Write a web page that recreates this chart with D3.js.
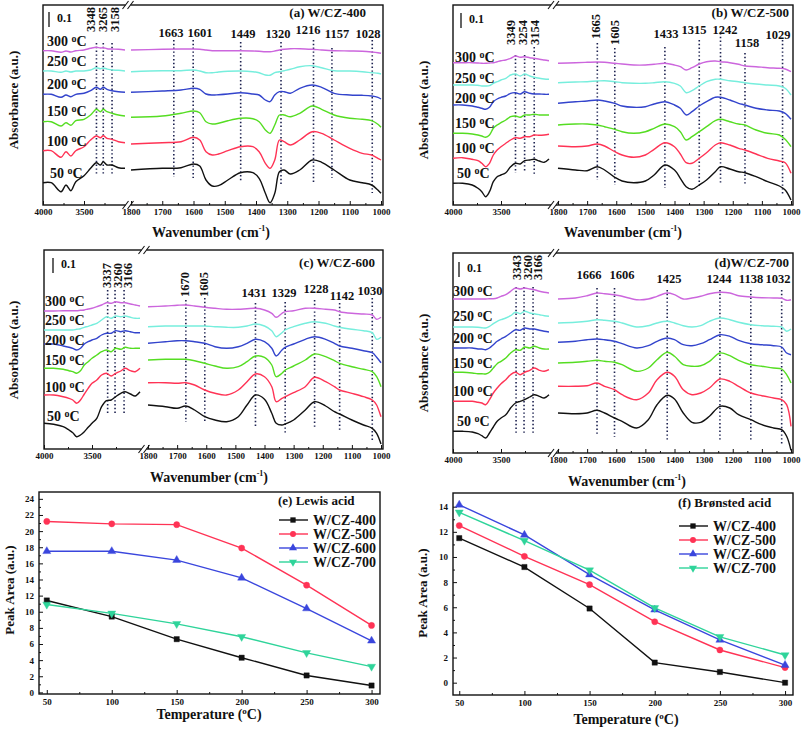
<!DOCTYPE html>
<html><head><meta charset="utf-8">
<script src="https://cdn.jsdelivr.net/npm/d3@7"></script>
<style>
body{margin:0;background:#fff}
svg{display:block}
text{font-family:"Liberation Serif","Times New Roman",serif;font-weight:bold;fill:#111}
</style></head><body>
<svg id="c" width="803" height="729"></svg>
<script>
// ---------------- DATA ----------------
const temperatures = [50, 100, 150, 200, 250, 300];
const spectrumColors = ["#111111", "#ff3355", "#55dd22", "#3344cc", "#77eedd", "#cc66dd"];

// Panel (a) W/CZ-400  (absorbance, arbitrary units, stacked)
const aHighWn = [4000,3900,3780,3720,3660,3600,3500,3420,3350,3300,3265,3220,3158,3080,3000];
const aHigh = [
 [22.3,22.3,13.3,20,14.3,23.3,29.3,36.7,42.3,40,43.3,40,40,37.3,36.7],
 [54.3,54.3,47.7,53.3,49,54.3,58.3,65,69,67.3,69.3,66.7,65.7,63.3,62.3],
 [83.3,83.3,79,82.3,79.7,84.3,85.7,90,95.7,93.3,95.7,93.3,91.7,90,89],
 [110.7,110.7,107.7,110,108.3,110.7,111.7,114.3,117.7,115.7,117.7,115.7,114.3,113.3,112.7],
 [134,134,132.7,134,133,134,134,135,137.3,136.3,137,136,135,134.7,134],
 [154.3,154.3,152.7,154,153,154.3,155,156.7,157.7,157,157.3,156.3,156,155.7,155]
];
const aLowWn = [1800,1700,1640,1600,1580,1560,1540,1520,1490,1450,1410,1390,1370,1355,1340,1325,1310,1290,1260,1220,1190,1150,1100,1060,1030,1010,1000];
const aLow = [
 [35,36.7,37.3,41,39,25,19,19.3,25,32.3,32.3,26.7,11.7,2.3,11.7,33.3,35,31,35,45,42.7,35,25,22.3,20,15,11.7],
 [61,62.3,63.3,67.7,65,53.3,50,51,54.3,58.3,58.3,53.3,41.7,36.7,45,65,63.3,60,65,73.3,71.7,65,56.7,51.7,50,46.7,45],
 [87.7,89,91.7,94,92.3,83.3,81,81.7,84.3,86.7,86.3,83.3,75,71.7,80,90,90,88.3,91.7,99,95.7,90,86.7,85.7,84.3,80.7,77.7],
 [112.7,114,115,116.7,115.7,111,110,110.3,111,112.3,111,110,105,103.3,110,113.3,113.3,111.7,116.7,120,117.7,111.7,110,109.7,109,107.7,106],
 [133.3,134.3,134.3,135,134,132.3,132.3,133,133.7,134,133.3,132.3,130,129.7,132.3,133.3,134.3,135.7,138.3,139.3,137.3,134.3,134,133.3,132.3,131.7,131],
 [155,155.7,156,156,155.7,155,154.3,154.3,154.3,154.3,154,153.7,153.3,153.3,154,155,155.7,156.3,156.3,155.7,155,154.3,154,153.7,153,152.3,151.7]
];
const aPeaksHigh = [3348, 3265, 3158];
const aPeaksLow = [1663, 1601, 1449, 1320, 1216, 1157, 1028];

// Panel (b) W/CZ-500
const bHighWn = [4000,3900,3800,3740,3700,3660,3620,3580,3540,3500,3450,3400,3349,3300,3254,3200,3154,3100,3050,3000];
const bHigh = [
 [21.7,21.7,20,16.7,13.3,8.3,13.3,23.3,28.3,30,32.3,38.3,41.7,41,44.3,45,45.7,44,42.7,46],
 [46.7,47.3,45.7,44.3,41.7,38.3,41.7,50,55,58.3,61.7,65,67.3,66.7,68.3,68.3,70,69.7,70,70.7],
 [71.7,71.7,71,70,69,67.7,70,76.7,80,82.3,85,88.3,89,87.7,90,90,90.7,90,90,90],
 [100,100,99,97.7,96.7,95.7,97.7,103.3,106,107.7,109,111.7,112.3,111,113.3,111.7,111,111,110.7,110.7],
 [120,120,120,119.7,119,119,119.3,121.7,123.3,125,126.7,130,131,129,131,129,127.7,126.7,126,125.7],
 [142.3,142.3,142.3,142,141.7,141.7,142,142.3,143.3,144.3,145,146.7,149,147.7,148.3,147.3,146.7,145.7,145,144.3]
];
const bLowWn = [1800,1740,1700,1665,1640,1605,1580,1540,1500,1470,1433,1400,1380,1360,1340,1315,1290,1260,1242,1210,1180,1158,1120,1080,1040,1020,1000];
const bLow = [
 [36.7,35,34.3,38.3,35,27.7,24,22.3,24,30,40,35,26.7,18.3,15.7,20,25,33.3,38.3,36,33.3,32.3,28.3,23.3,19,15,5],
 [59,58.3,59,61,59,53.3,50,47.7,50,55.7,62.3,58.3,51,42.3,41.7,46.7,52.3,60,62.3,60,56.7,55,51,46.7,44,42.3,31.7],
 [80,81,81,80,78.3,75.7,73.3,71.7,73.3,76.7,81,78.3,73.3,65,68.3,73.3,78.3,84.3,85.7,83.3,81,80,75,71.7,70,65.7,58.3],
 [101.7,103.3,104,105,104,101.7,99,97.7,98.3,101,103.3,100,96.7,90,93.3,99,103.3,107.7,107.7,105,101.7,100,96.7,95,94,91.7,85.7],
 [122.3,123,123.3,124,124.3,123.3,122.3,121.7,121.7,122.3,123.3,121.7,119,112.3,114.3,119,123.3,125.7,125.7,124.3,123.3,122.3,121,120,119,116.7,110],
 [141.7,142.3,142.7,143,142.7,141.7,141,140,140,140.7,141.7,140,138.3,135,137.3,141,143.3,144,143.3,142.3,140.7,139,138.3,137.3,136.7,136,133.3]
];
const bPeaksHigh = [3349, 3254, 3154];
const bPeaksLow = [1665, 1605, 1433, 1315, 1242, 1158, 1029];

// Panel (c) W/CZ-600
const cHighWn = [4000,3900,3800,3740,3700,3660,3620,3580,3540,3500,3450,3400,3349,3300,3254,3200,3154,3100,3050,3000];
const cHigh = [
 [25.7,24.7,22.3,19,16.3,12.3,14,17.3,21.7,25.7,30.7,42.3,48.3,49,52.3,55.7,57.3,55,53,57.3],
 [54,54,52.3,50.7,49,45.7,49,55,60.7,65.7,69,74,75.7,73,75.7,78,80.7,78.3,77.3,80.7],
 [80.7,80.7,79.7,78.3,77.3,75.7,78.3,84,87.3,90.7,94,97.3,99,97.3,100.7,99.7,101.7,100.7,100.7,100.7],
 [105,105,103,101.7,100.7,99,100.7,105,107.3,109,110.7,114,115.7,115.7,118.3,117.3,118.3,117.3,116.3,116.3],
 [119,119,119,119,119,119.7,120.3,121.7,122.7,124,125.7,129,132.3,130.7,133,132.3,133,131.7,130.7,130.7],
 [138,138,138.3,138.3,138.3,138.3,138.7,139,140,140.7,142.3,144,146.3,145.7,147.3,146.3,146.3,145,144,143]
];
const cLowWn = [1800,1740,1700,1670,1640,1605,1570,1530,1490,1460,1431,1400,1375,1360,1340,1329,1300,1260,1228,1190,1160,1142,1100,1060,1030,1015,1000];
const cLow = [
 [44,42.3,40.7,43,39,32.3,29,27.3,32.3,44,54,49.7,35.7,25.7,24,25,29,39,47.3,43,37.3,35,29,24,20.7,15.7,5],
 [66.3,66.3,65.7,66.3,64,59,55.7,54,59,67.3,75,72.3,62.3,47.3,50.7,52.3,56.3,62.3,71.7,67.3,62.3,59,55.7,52.3,49,44,32.3],
 [89,89.7,89.7,89.7,88.3,85.7,83,80.7,82.3,87.3,93,91.7,84,72.3,75.7,79,83,89,95,92.3,88.3,85.7,82.3,79.7,77.3,72.3,62.3],
 [105.7,107.3,108.3,108.3,107.3,105.7,102.3,100.7,102.3,105.7,109.7,107.3,100.7,93,99,101.7,105,109.7,112.3,109.7,105.7,103,100.7,98.3,96.3,91.7,86.3],
 [122.3,123,123,123,123,123,122.3,121.7,121.7,123,125,123,118.3,112.3,116.3,119,122.3,125.7,127.3,125.7,123,121.7,119.7,118.3,116.3,109.7,111.7],
 [142.3,143,143.7,144,143,141.7,140.7,139.7,139.7,140.3,140.7,139,135.7,131.7,135.7,137.3,138.3,140.7,140.7,139.7,139,137.3,135.7,135,134,129.7,131.7]
];
const cPeaksHigh = [3337, 3260, 3166];
const cPeaksLow = [1670, 1605, 1431, 1329, 1228, 1142, 1030];

// Panel (d) W/CZ-700
const dHighWn = [4000,3900,3800,3740,3700,3660,3620,3580,3540,3500,3450,3400,3349,3300,3254,3200,3154,3100,3050,3000];
const dHigh = [
 [21.7,21.7,21,19.3,17.3,15,20,26,31.7,35,38.3,45,50,51.7,53.3,56,58.3,56.7,55,58.3],
 [51.7,51.7,51.7,50.7,50,48.3,53.3,60,65,69.3,73.3,78.3,80.7,78.3,80.7,82.7,85,82.7,81.7,83.3],
 [80.7,80.7,80,79.3,79.3,79,80.7,85,89.3,91.7,95,100,103.3,102.7,106,105,106.7,105,104,104],
 [105,105,105,104,104,103.3,105,108.3,111.7,114,116.7,120,123.3,122.7,125,124,124,122.7,121.7,121],
 [126,126,126,125.7,125.3,125,126.7,129.3,131.7,133.3,135,137.3,140.7,139.3,141.7,140,139.3,138.3,137.3,136.7],
 [154,154,154,154,154,154,154.3,154.3,155,156.7,158.3,161.7,165,164,165,164,163.3,161.7,160.7,160]
];
const dLowWn = [1800,1740,1700,1666,1640,1606,1580,1530,1490,1460,1425,1400,1370,1340,1310,1280,1244,1210,1180,1138,1100,1060,1032,1015,1000];
const dLow = [
 [40,39.3,40,42.7,40,35,31.7,25,33.3,48.3,57.7,54,40,30.7,30.7,36.7,46.7,45,38.3,33.3,28.3,25,23.3,16.7,2.7],
 [66.7,66.7,67.3,70,66.7,63.3,58.3,53.3,60,73.3,80.7,76.7,63.3,58.3,60,65,74,71.7,66.7,60,57.3,55,53.3,48.3,26.7],
 [90,90.7,91.7,92.7,91.7,90.7,88.3,81.7,85,93.3,100.7,96.7,88.3,86.7,87.3,91.7,100,97.3,92.7,88.3,86.7,85,84,78.3,70],
 [110.7,111.7,113.3,114,113.3,111.7,109.3,105,107.3,111.7,115,113.3,108.3,107.3,109.3,113.3,118.3,116.7,112.7,109.3,108.3,107.3,106,100,98.3],
 [130,130.7,131.7,133.3,132.7,131.7,130,126,127.3,130,131.7,130,127.3,126,127.3,131.7,135,133.3,130.7,128.3,127.3,126.7,126,121.7,124],
 [154,155,157.3,160,159.3,158.3,156.7,153.3,154,156.7,160,158.3,154,155,156.7,159.3,160.7,160,157.3,156,155.3,155,154.7,152.7,153.3]
];
const dPeaksHigh = [3343, 3260, 3166];
const dPeaksLow = [1666, 1606, 1425, 1244, 1138, 1032];

// Panels (e), (f): peak areas vs temperature
const sampleNames = ["W/CZ-400", "W/CZ-500", "W/CZ-600", "W/CZ-700"];
const sampleColors = ["#111111", "#ff3355", "#3a46dd", "#2fd49a"];
const lewisArea = [
 [11.4, 9.4, 6.6, 4.3, 2.1, 0.85],
 [21.2, 20.9, 20.8, 17.9, 13.3, 8.3],
 [17.5, 17.5, 16.4, 14.2, 10.4, 6.4],
 [10.9, 9.8, 8.5, 6.9, 4.9, 3.2]
];
const bronstedArea = [
 [11.5, 9.2, 5.9, 1.6, 0.85, 0.0],
 [12.5, 10.05, 7.8, 4.85, 2.6, 1.2],
 [14.15, 11.75, 8.6, 5.8, 3.4, 1.4],
 [13.55, 11.3, 8.95, 5.95, 3.65, 2.2]
];
const lewisTicks = d3.range(0, 25, 2);
const bronstedTicks = d3.range(0, 15, 2);
const tempTicks = [50, 100, 150, 200, 250, 300];

// ---------------- DRAWING ----------------
const svg = d3.select("#c");
const INK = "#111";

function txt(g, x, y, s, size, anchor) {
  return g.append("text").attr("x", x).attr("y", y).attr("font-size", size)
    .attr("text-anchor", anchor || "start").text(s);
}

function styleAxis(sel, fs) {
  sel.select(".domain").remove();
  sel.selectAll(".tick line").attr("stroke", INK).attr("stroke-width", 1);
  sel.selectAll(".tick text").attr("font-size", fs).attr("font-family", '"Liberation Serif","Times New Roman",serif')
     .attr("font-weight", "bold").attr("fill", INK);
}

function drawSpectra(p) {
  const g = svg.append("g");
  const xL = d3.scaleLinear().domain([4000, 3000]).range(p.xl);
  const xR = d3.scaleLinear().domain([1800, 1000]).range(p.xr);
  const y = d3.scaleLinear().domain([0, 200]).range([p.bottom, p.bottom - 200]);
  const gap = (xL(3000) + xR(1800)) / 2;

  // frame
  g.append("rect").attr("x", p.left).attr("y", p.top).attr("width", p.right - p.left)
   .attr("height", p.bottom - p.top).attr("fill", "none").attr("stroke", INK).attr("stroke-width", 1.4);
  [p.top, p.bottom].forEach(yy => {
    g.append("rect").attr("x", gap - 2.5).attr("y", yy - 2).attr("width", 5).attr("height", 4).attr("fill", "#fff");
    [-2.5, 2.5].forEach(dx => g.append("line").attr("x1", gap + dx - 3).attr("y1", yy + 4)
      .attr("x2", gap + dx + 3).attr("y2", yy - 4).attr("stroke", INK).attr("stroke-width", 1.1));
  });

  // axes
  const axY = p.bottom;
  const aL = g.append("g").attr("transform", `translate(0,${axY})`)
    .call(d3.axisBottom(xL).tickValues([4000, 3500]).tickSize(-4).tickPadding(4).tickFormat(d3.format("d")));
  styleAxis(aL, 9);
  const aLm = g.append("g").attr("transform", `translate(0,${axY})`)
    .call(d3.axisBottom(xL).tickValues([3750, 3250]).tickSize(-2).tickFormat(""));
  styleAxis(aLm, 9);
  const aR = g.append("g").attr("transform", `translate(0,${axY})`)
    .call(d3.axisBottom(xR).tickValues(d3.range(1800, 999, -100)).tickSize(-4).tickPadding(4).tickFormat(d3.format("d")));
  styleAxis(aR, 9);
  const aRm = g.append("g").attr("transform", `translate(0,${axY})`)
    .call(d3.axisBottom(xR).tickValues(d3.range(1750, 1000, -100)).tickSize(-2).tickFormat(""));
  styleAxis(aRm, 9);

  // dotted peak lines
  const dot = (x, y1, y2) => g.append("line").attr("x1", x).attr("x2", x).attr("y1", y1).attr("y2", y2)
     .attr("stroke", "#1d2250").attr("stroke-width", 1.6).attr("stroke-dasharray", "1.4,2.4");
  p.peaksHigh.forEach((wn, i) => dot(xL(wn), p.hiLines[i][0], p.hiLines[i][1]));
  p.peaksLow.forEach((wn, i) => dot(xR(wn), p.loLines[i][0], p.loLines[i][1]));

  // spectra
  const line = d3.line().x(d => d[0]).y(d => y(d[1])).curve(d3.curveCatmullRom.alpha(0.5));
  p.high.forEach((vals, i) => {
    g.append("path").attr("d", line(p.highWn.map((w, j) => [xL(w), vals[j]])))
     .attr("fill", "none").attr("stroke", spectrumColors[i]).attr("stroke-width", 1.4);
  });
  p.low.forEach((vals, i) => {
    g.append("path").attr("d", line(p.lowWn.map((w, j) => [xR(w), vals[j]])))
     .attr("fill", "none").attr("stroke", spectrumColors[i]).attr("stroke-width", 1.4);
  });

  // temperature labels
  temperatures.forEach((t, i) => {
    const tx = g.append("text").attr("x", p.tempX[i]).attr("y", p.tempY[i]).attr("font-size", 14);
    tx.append("tspan").text(t + " ");
    tx.append("tspan").attr("font-size", 10).attr("dy", -4).text("o");
    tx.append("tspan").attr("dy", 4).text("C");
  });

  // peak labels (rotated for high region)
  p.peaksHigh.forEach((wn, i) => {
    g.append("text").attr("transform", `translate(${p.hiLabX[i]},${p.hiLabBottom}) rotate(-90)`)
     .attr("font-size", 12.5).attr("dominant-baseline", "central").text(wn);
  });
  p.peaksLow.forEach((wn, i) => {
    const L = p.loLab[i];
    if (L[2]) {
      g.append("text").attr("transform", `translate(${L[0]},${L[1]}) rotate(-90)`)
       .attr("font-size", 12.5).attr("dominant-baseline", "central").text(wn);
    } else {
      txt(g, L[0], L[1], wn, 12.5, "middle");
    }
  });

  // panel title, scale bar
  txt(g, p.titleXY[0], p.titleXY[1], p.title, 13, "end");
  g.append("line").attr("x1", p.bar[0]).attr("x2", p.bar[0]).attr("y1", p.bar[1]).attr("y2", p.bar[1] - (y(0) - y(15)))
   .attr("stroke", INK).attr("stroke-width", 1.3);
  txt(g, p.bar[0] + 8, p.bar[1] - 5, "0.1", 12);

  // axis titles
  g.append("text").attr("transform", `translate(${p.yTitle[0]},${p.yTitle[1]}) rotate(-90)`)
   .attr("text-anchor", "middle").attr("dominant-baseline", "central").attr("font-size", 13).text("Absorbance (a.u.)");
  const xt = g.append("text").attr("x", p.xTitle[0]).attr("y", p.xTitle[1]).attr("text-anchor", "middle").attr("font-size", 14);
  xt.append("tspan").text("Wavenumber (cm");
  xt.append("tspan").attr("font-size", 8).attr("dy", -6).text("-1");
  xt.append("tspan").attr("dy", 6).text(")");
}

drawSpectra({
  left: 43, right: 383, top: 5, bottom: 205, xl: [43, 125], xr: [131, 381],
  highWn: aHighWn, high: aHigh, lowWn: aLowWn, low: aLow,
  peaksHigh: aPeaksHigh, peaksLow: aPeaksLow,
  hiLines: [[43, 175], [43, 175], [43, 175]],
  loLines: [[40, 177], [40, 178], [42, 182], [42, 185], [40, 182], [48, 178], [40, 193]],
  hiLabX: [91, 103, 115], hiLabBottom: 32,
  loLab: [[171, 37], [200, 37], [243, 38], [278, 38], [308, 34], [337, 38], [368, 38]],
  tempX: [50, 47, 47, 47, 47, 47], tempY: [178, 146, 116, 89, 66, 46],
  title: "(a) W/CZ-400", titleXY: [366, 17], bar: [49, 27],
  yTitle: [13, 100], xTitle: [211, 237]
});
drawSpectra({
  left: 453, right: 793, top: 5, bottom: 205, xl: [453, 549], xr: [558, 791],
  highWn: bHighWn, high: bHigh, lowWn: bLowWn, low: bLow,
  peaksHigh: bPeaksHigh, peaksLow: bPeaksLow,
  hiLines: [[55, 173], [55, 172], [47, 175]],
  loLines: [[43, 180], [48, 185], [47, 188], [40, 187], [33, 183], [53, 185], [40, 195]],
  hiLabX: [511, 523, 535], hiLabBottom: 45,
  loLab: [[596, 39, true], [615, 45, true], [666, 38], [694, 34], [725, 34], [747, 47], [778, 39]],
  tempX: [457, 455, 455, 455, 455, 455], tempY: [178, 153, 128, 103, 83, 62],
  title: "(b) W/CZ-500", titleXY: [789, 17], bar: [461, 28],
  yTitle: [423, 110], xTitle: [623, 237]
});
drawSpectra({
  left: 44, right: 383, top: 250, bottom: 449, xl: [44, 140], xr: [148, 381],
  highWn: cHighWn, high: cHigh, lowWn: cLowWn, low: cLow,
  peaksHigh: cPeaksHigh, peaksLow: cPeaksLow,
  hiLines: [[290, 415], [290, 415], [290, 415]],
  loLines: [[300, 422], [298, 423], [303, 427], [302, 433], [300, 428], [303, 432], [298, 440]],
  hiLabX: [107, 118, 128], hiLabBottom: 288,
  loLab: [[185, 297, true], [204, 297, true], [254, 297], [284, 297], [316, 293], [342, 300], [370, 295]],
  tempX: [47, 45, 45, 45, 45, 45], tempY: [421, 392, 365, 345, 325, 306],
  title: "(c) W/CZ-600", titleXY: [375, 267], bar: [53, 273],
  yTitle: [13, 350], xTitle: [209, 482]
});
drawSpectra({
  left: 453, right: 793, top: 253, bottom: 453, xl: [453, 549], xr: [558, 791],
  highWn: dHighWn, high: dHigh, lowWn: dLowWn, low: dLow,
  peaksHigh: dPeaksHigh, peaksLow: dPeaksLow,
  hiLines: [[287, 433], [287, 433], [287, 433]],
  loLines: [[288, 435], [288, 437], [290, 440], [290, 440], [290, 442], [290, 445]],
  hiLabX: [517, 528, 538], hiLabBottom: 280,
  loLab: [[589, 279], [622, 279], [669, 283], [719, 283], [751, 283], [778, 283]],
  tempX: [457, 453, 453, 453, 453, 453], tempY: [426, 396, 368, 343, 321, 296],
  title: "(d)W/CZ-700", titleXY: [789, 267], bar: [459, 277],
  yTitle: [423, 363], xTitle: [627, 486]
});

const symbols = [d3.symbolSquare, d3.symbolCircle, d3.symbolTriangle, d3.symbolTriangle];
function drawAcid(p) {
  const g = svg.append("g");
  const x = d3.scaleLinear().domain(p.xd).range([p.left, p.right]);
  const y = d3.scaleLinear().domain(p.yd).range([p.bottom, p.top]);
  g.append("rect").attr("x", p.left).attr("y", p.top).attr("width", p.right - p.left)
   .attr("height", p.bottom - p.top).attr("fill", "none").attr("stroke", INK).attr("stroke-width", 1.4);
  const ax = g.append("g").attr("transform", `translate(0,${p.bottom})`)
    .call(d3.axisBottom(x).tickValues(tempTicks).tickSize(-4).tickPadding(5));
  styleAxis(ax, 9);
  const axm = g.append("g").attr("transform", `translate(0,${p.bottom})`)
    .call(d3.axisBottom(x).tickValues([75, 125, 175, 225, 275]).tickSize(-2).tickFormat(""));
  styleAxis(axm, 9);
  const ay = g.append("g").attr("transform", `translate(${p.left},0)`)
    .call(d3.axisLeft(y).tickValues(p.ticks).tickSize(-4).tickPadding(5));
  styleAxis(ay, 9);
  const aym = g.append("g").attr("transform", `translate(${p.left},0)`)
    .call(d3.axisLeft(y).tickValues(p.ticks.slice(0, -1).map(v => v + 1)).tickSize(-2).tickFormat(""));
  styleAxis(aym, 9);

  const line = d3.line().x((d, i) => x(temperatures[i])).y(d => y(d));
  p.series.forEach((vals, k) => {
    g.append("path").attr("d", line(vals)).attr("fill", "none")
     .attr("stroke", sampleColors[k]).attr("stroke-width", 1.4);
  });
  p.series.forEach((vals, k) => {
    vals.forEach((v, i) => {
      g.append("path").attr("d", d3.symbol().type(symbols[k]).size(k === 1 ? 30 : 28)())
       .attr("transform", `translate(${x(temperatures[i])},${y(v)})${k === 3 ? " rotate(180)" : ""}`)
       .attr("fill", sampleColors[k]).attr("stroke", sampleColors[k]).attr("stroke-width", 0.4);
    });
  });

  // legend
  txt(g, p.leg[0], p.leg[1], p.title, 13);
  sampleNames.forEach((n, k) => {
    const yy = p.legY[k];
    g.append("line").attr("x1", p.leg[0] + 1).attr("x2", p.leg[0] + 30).attr("y1", yy).attr("y2", yy)
     .attr("stroke", sampleColors[k]).attr("stroke-width", 1.4);
    g.append("path").attr("d", d3.symbol().type(symbols[k]).size(28)())
     .attr("transform", `translate(${p.leg[0] + 15},${yy})${k === 3 ? " rotate(180)" : ""}`)
     .attr("fill", sampleColors[k]);
    g.append("text").attr("x", p.leg[0] + 35).attr("y", yy).attr("dominant-baseline", "central")
     .attr("font-size", 14).text(n);
  });

  g.append("text").attr("transform", `translate(${p.yTitle[0]},${p.yTitle[1]}) rotate(-90)`)
   .attr("text-anchor", "middle").attr("dominant-baseline", "central").attr("font-size", 13).text("Peak Area (a.u.)");
  const xt = g.append("text").attr("x", p.xTitle[0]).attr("y", p.xTitle[1]).attr("text-anchor", "middle").attr("font-size", 14);
  xt.append("tspan").text("Temperature (");
  xt.append("tspan").attr("font-size", 9).attr("dy", -5).text("o");
  xt.append("tspan").attr("dy", 5).text("C)");
}

drawAcid({
  left: 39, right: 380, top: 492, bottom: 694, xd: [44, 306.5], yd: [-0.2, 24.85],
  ticks: lewisTicks, series: lewisArea, title: "(e) Lewis acid",
  leg: [278, 505], legY: [520, 534, 548, 562], yTitle: [9, 590], xTitle: [209, 719]
});
drawAcid({
  left: 453, right: 793, top: 493, bottom: 695, xd: [45.2, 306.1], yd: [-0.98, 15.09],
  ticks: bronstedTicks, series: bronstedArea, title: "(f) Brønsted acid",
  leg: [678, 507], legY: [526, 540, 554, 568], yTitle: [422, 593], xTitle: [626, 724]
});
</script></body></html>
